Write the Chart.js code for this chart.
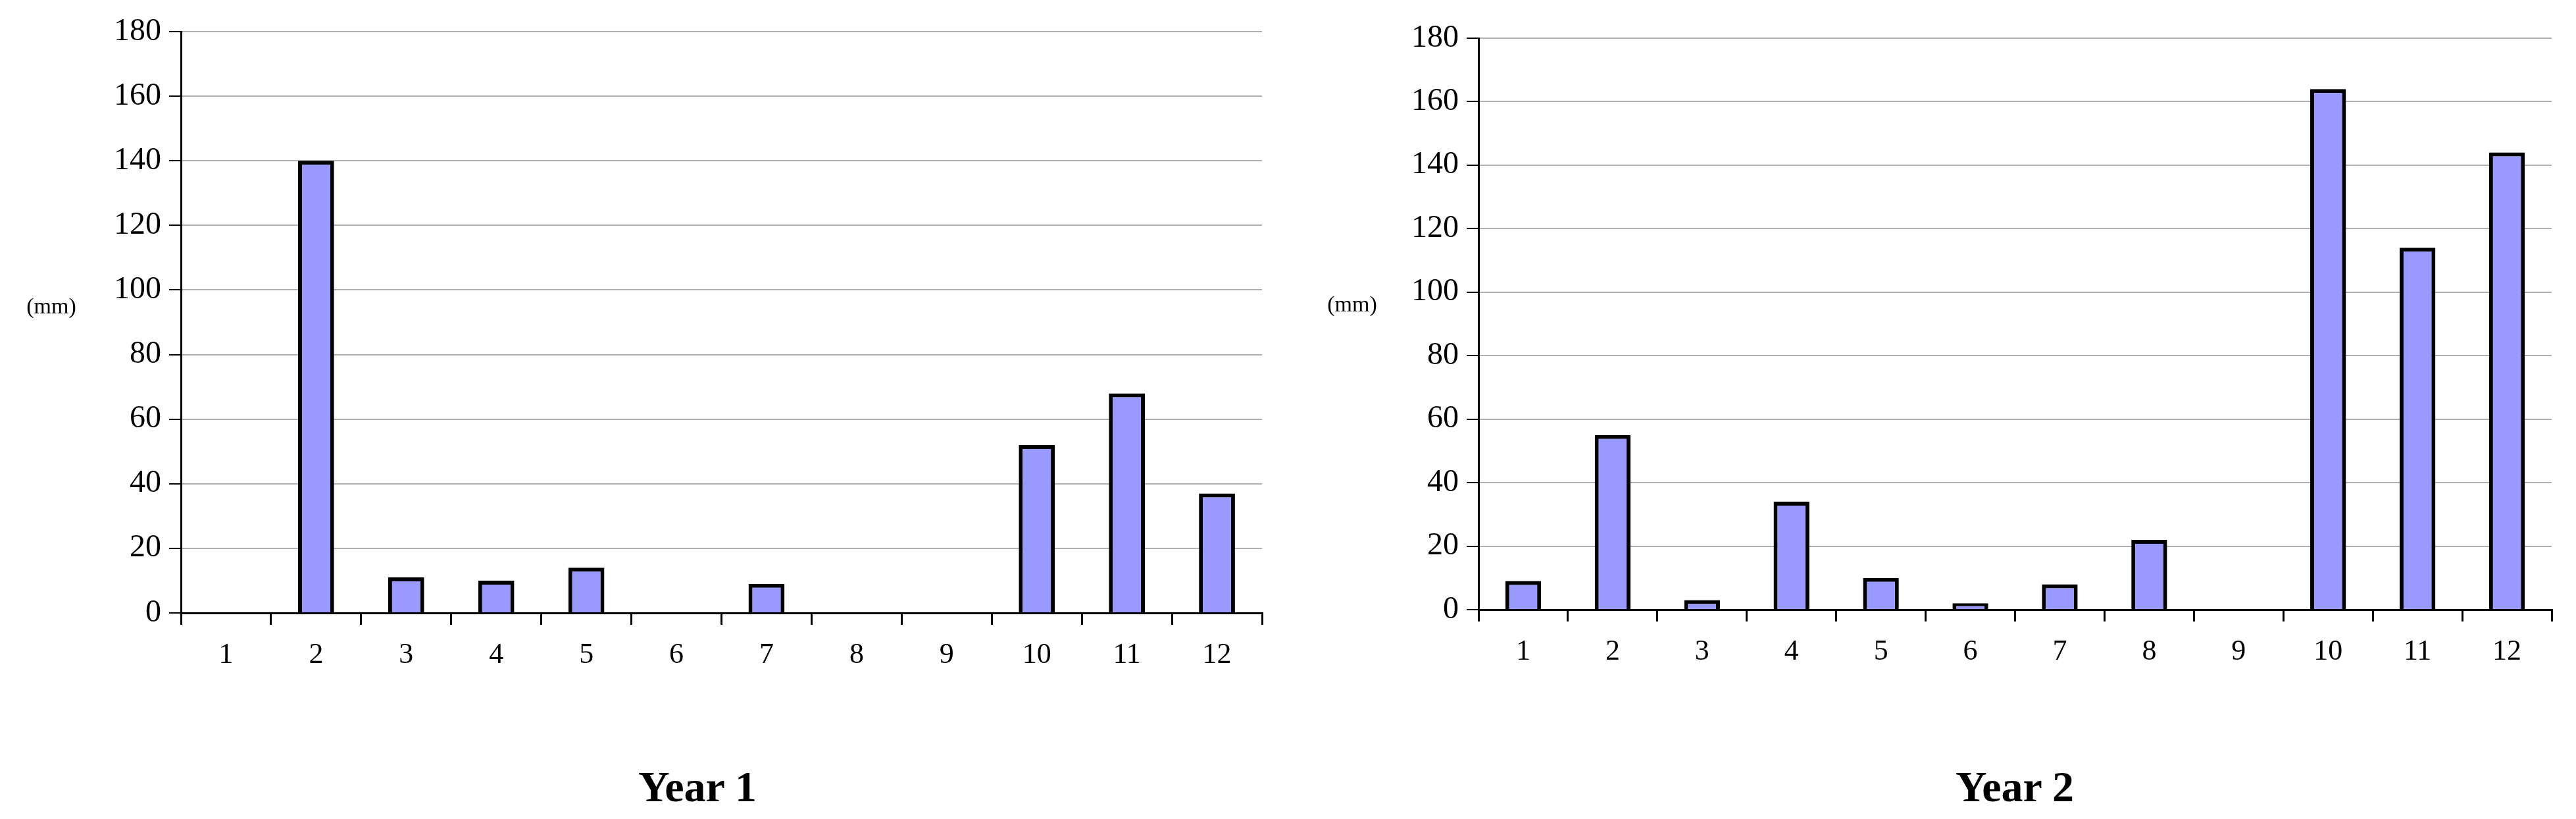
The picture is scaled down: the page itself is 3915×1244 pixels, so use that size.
<!DOCTYPE html>
<html>
<head>
<meta charset="utf-8">
<script src="https://cdn.jsdelivr.net/npm/chart.js@4"></script>
<style>
  body { margin:0; width:3915px; height:1244px; background:#fff; position:relative; overflow:hidden; font-family:"Liberation Serif", serif; }
  .box { position:absolute; }
  .unit { position:absolute; font-size:34px; transform:translate(-50%,-50%); }
  .title { position:absolute; font-size:66px; font-weight:bold; transform:translate(-50%,-50%); }
</style>
</head>
<body>
<div class="box" style="left:0;top:0;width:1930px;height:1060px;"><canvas id="c1"></canvas></div>
<div class="box" style="left:1960px;top:0;width:1930px;height:1060px;"><canvas id="c2"></canvas></div>
<div class="unit" style="left:78px;top:465px;">(mm)</div>
<div class="unit" style="left:2055px;top:462px;">(mm)</div>
<div class="title" style="left:1060px;top:1195px;">Year 1</div>
<div class="title" style="left:3062px;top:1195px;">Year 2</div>
<script>
// Data
const months = ['1','2','3','4','5','6','7','8','9','10','11','12'];
const year1 = [0, 140, 11, 10, 14, 0, 9, 0, 0, 52, 68, 37];
const year2 = [9, 55, 3, 34, 10, 2, 8, 22, 0, 164, 114, 144];
const yTicks = [0, 20, 40, 60, 80, 100, 120, 140, 160, 180];

function makeChart(id, values, yWidth, top, plotBottom) {
  const H = 1060;
  return new Chart(document.getElementById(id), {
    type: 'bar',
    data: {
      labels: months,
      datasets: [{
        data: values,
        backgroundColor: '#9999ff',
        borderColor: '#000',
        borderWidth: 6,
        borderSkipped: 'bottom',
        barPercentage: 0.4,
        categoryPercentage: 1
      }]
    },
    options: {
      responsive: true,
      maintainAspectRatio: false,
      animation: false,
      layout: { padding: { top: top, right: 12, left: 0, bottom: 0 } },
      plugins: { legend: { display: false }, tooltip: { enabled: false } },
      scales: {
        x: {
          grid: { display: true, drawOnChartArea: false, color: '#000', lineWidth: 3, tickLength: 18, offset: true },
          border: { color: '#000', width: 3 },
          ticks: { color: '#000', font: { family: 'Liberation Serif', size: 44 }, padding: 20 },
          afterFit: s => { s.height = H - plotBottom; }
        },
        y: {
          min: 0, max: 180,
          afterBuildTicks: s => { s.ticks = yTicks.map(v => ({ value: v })); },
          grid: { color: '#b0b0b0', lineWidth: 2, tickLength: 18, tickColor: '#000' },
          border: { color: '#000', width: 3, dash: [] },
          ticks: { color: '#000', font: { family: 'Liberation Serif', size: 48 }, padding: 12 },
          afterFit: s => { s.width = yWidth; }
        }
      }
    },
    plugins: [{
      id: 'dash',
      beforeDraw: c => {
        c.options.scales.y.grid.borderDash = [10, 8];
      }
    }]
  });
}

Chart.defaults.scale.grid.borderDash = [10, 8];
const c1 = makeChart('c1', year1, 275, 48, 931);
const c2 = makeChart('c2', year2, 287, 58, 926);
</script>
</body>
</html>
